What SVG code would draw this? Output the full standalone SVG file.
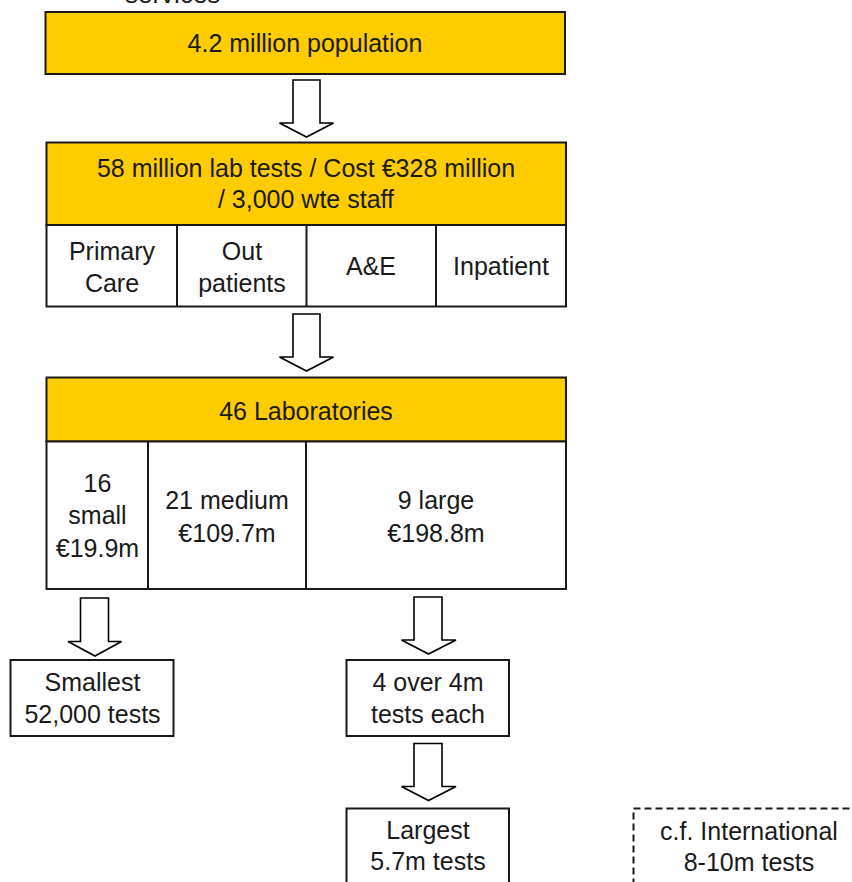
<svg xmlns="http://www.w3.org/2000/svg" width="852" height="882" viewBox="0 0 852 882">
  <style>
    .band { fill: #FFCC00; stroke: #1a1a1a; stroke-width: 2; }
    .cell { fill: #ffffff; stroke: #1a1a1a; stroke-width: 2; }
    .note { fill: #ffffff; stroke: #1a1a1a; stroke-width: 2; stroke-dasharray: 7 4; }
    .arrow { fill: #ffffff; stroke: #000000; stroke-width: 1.6; stroke-linejoin: miter; }
    text { font-family: "Liberation Sans", Arial, sans-serif; font-size: 25px; fill: #1a1a1a; text-anchor: middle; }
  </style>

  <rect width="852" height="882" fill="#ffffff"/>

  <!-- heading, clipped at the top edge -->
  <text x="125" y="3" style="text-anchor:start;font-size:26px" fill="#000">services</text>

  <!-- population -->
  <g id="population">
    <rect class="band" x="45.5" y="12" width="519.5" height="62"/>
    <text x="305" y="52">4.2 million population</text>
  </g>

  <!-- lab tests with care settings -->
  <g id="lab-tests">
    <rect class="band" x="46.5" y="142.5" width="519.5" height="82.5"/>
    <text x="306" y="177">58 million lab tests / Cost €328 million</text>
    <text x="306" y="208">/ 3,000 wte staff</text>
    <rect class="cell" x="46.5" y="225" width="519.5" height="81.5"/>
    <line x1="177" y1="225" x2="177" y2="306.5" stroke="#1a1a1a" stroke-width="2"/>
    <line x1="306.5" y1="225" x2="306.5" y2="306.5" stroke="#1a1a1a" stroke-width="2"/>
    <line x1="436" y1="225" x2="436" y2="306.5" stroke="#1a1a1a" stroke-width="2"/>
    <text x="112" y="260">Primary</text>
    <text x="112" y="292">Care</text>
    <text x="242" y="260">Out</text>
    <text x="242" y="292">patients</text>
    <text x="371" y="275">A&amp;E</text>
    <text x="501" y="275">Inpatient</text>
  </g>

  <!-- laboratories by size -->
  <g id="laboratories">
    <rect class="band" x="46.5" y="377.5" width="519.5" height="64"/>
    <text x="306" y="420">46 Laboratories</text>
    <rect class="cell" x="46.5" y="441.5" width="519.5" height="147.5"/>
    <line x1="148" y1="441.5" x2="148" y2="589" stroke="#1a1a1a" stroke-width="2"/>
    <line x1="306" y1="441.5" x2="306" y2="589" stroke="#1a1a1a" stroke-width="2"/>
    <text x="97.5" y="492">16</text>
    <text x="97.5" y="524">small</text>
    <text x="97.5" y="557">€19.9m</text>
    <text x="227" y="509">21 medium</text>
    <text x="227" y="542">€109.7m</text>
    <text x="436" y="509">9 large</text>
    <text x="436" y="542">€198.8m</text>
  </g>

  <g id="smallest">
    <rect class="cell" x="10.5" y="660" width="163" height="76"/>
    <text x="92.5" y="691">Smallest</text>
    <text x="92.5" y="723">52,000 tests</text>
  </g>

  <g id="over-4m">
    <rect class="cell" x="346.5" y="660" width="162.5" height="76"/>
    <text x="428" y="691">4 over 4m</text>
    <text x="428" y="723">tests each</text>
  </g>

  <g id="largest">
    <rect class="cell" x="346.5" y="808.5" width="162.5" height="90"/>
    <text x="428" y="838.5">Largest</text>
    <text x="428" y="870">5.7m tests</text>
  </g>

  <g id="international">
    <rect class="note" x="633.5" y="808.5" width="240" height="90"/>
    <text x="749" y="839.5">c.f. International</text>
    <text x="749" y="871">8-10m tests</text>
  </g>

  <!-- block arrows -->
  <g id="connectors">
    <path class="arrow" d="M293,80 H320 V123 H333.5 L306.5,137 L279.5,123 H293 Z"/>
    <path class="arrow" d="M293,314 H320 V357 H333.5 L306.5,371 L279.5,357 H293 Z"/>
    <path class="arrow" d="M80.5,598 H108.5 V641.5 H121.5 L95,656 L68,641.5 H80.5 Z"/>
    <path class="arrow" d="M414,597 H442 V640 H456 L428.5,654 L401.5,640 H414 Z"/>
    <path class="arrow" d="M414,743.5 H442 V786.5 H456 L428.5,800.5 L401.5,786.5 H414 Z"/>
  </g>
</svg>
